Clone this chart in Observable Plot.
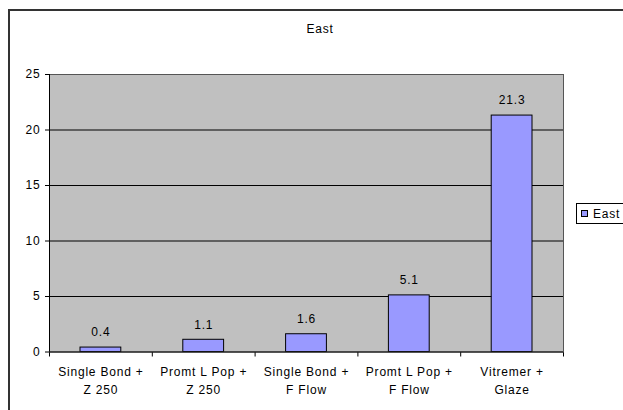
<!DOCTYPE html>
<html>
<head>
<meta charset="utf-8">
<script src="https://cdn.jsdelivr.net/npm/d3@7"></script>
<script src="https://cdn.jsdelivr.net/npm/@observablehq/plot@0.6"></script>
<style>
  html, body { margin: 0; padding: 0; background: #fff; }
  #wrap { position: relative; width: 623px; height: 410px; overflow: hidden; background: #fff;
          font-family: 'Liberation Sans', Arial, sans-serif; }
  #border { position: absolute; left: 8px; top: 9px; width: 700px; height: 500px;
            border: 2px solid #333; box-sizing: border-box; }
  #title { position: absolute; left: 0; width: 640px; top: 21px; text-align: center;
           font-size: 12px; letter-spacing: 0.8px; line-height: 16px; }
  #chart { position: absolute; left: 0; top: 0; }
  #chart svg text { letter-spacing: 0.8px; }
  #legend { position: absolute; left: 576px; top: 203px; width: 80px; height: 21px;
            border: 1px solid #000; box-sizing: border-box; background: #fff;
            font-size: 12px; letter-spacing: 0.8px; }
  #legend .sw { position: absolute; left: 4px; top: 6px; width: 7px; height: 7px; box-sizing: border-box;
                background: #9999ff; border: 1px solid #000; }
  #legend .lb { position: absolute; left: 16px; top: 2px; line-height: 16px; }
</style>
</head>
<body>
<div id="wrap">
  <div id="border"></div>
  <div id="title"></div>
  <div id="chart"></div>
  <div id="legend"><span class="sw"></span><span class="lb"></span></div>
</div>
<script>
const chartTitle = "East";
const seriesName = "East";
const categories = [
  "Single Bond +\nZ 250",
  "Promt L Pop +\nZ 250",
  "Single Bond +\nF Flow",
  "Promt L Pop +\nF Flow",
  "Vitremer +\nGlaze"
];
const values = [0.4, 1.1, 1.6, 5.1, 21.3];
const yTicks = [0, 5, 10, 15, 20, 25];

const data = categories.map((c, i) => ({cat: c, value: values[i], i0: i, i1: i + 1, mid: i + 0.5}));

document.getElementById("title").textContent = chartTitle;
document.querySelector("#legend .lb").textContent = seriesName;

const chart = Plot.plot({
  width: 623,
  height: 410,
  marginLeft: 49,
  marginRight: 60,
  marginTop: 74,
  marginBottom: 58.5,
  style: {fontFamily: "'Liberation Sans', Arial, sans-serif", fontSize: "12px", color: "#000", background: "transparent", overflow: "visible"},
  x: {type: "linear", domain: [0, categories.length], ticks: categories.length, tickSize: 5, tickFormat: () => "", label: null},
  y: {domain: [0, 25], ticks: yTicks, tickSize: 4, tickPadding: 5, label: null},
  marks: [
    Plot.frame({fill: "#c0c0c0"}),
    Plot.ruleY(yTicks.filter(v => v > 0 && v < 25), {stroke: "#000"}),
    Plot.rectY(data, {x1: "i0", x2: "i1", y: "value", fill: "#9999ff", stroke: "#000", insetLeft: 31, insetRight: 31}),
    Plot.frame({stroke: "#555"}),
    Plot.ruleX([0], {stroke: "#000"}),
    Plot.ruleY([0], {stroke: "#000"}),
    Plot.text(data, {x: "mid", y: "value", text: d => d.value.toFixed(1), dy: -15, fill: "#000"}),
    Plot.text(data, {x: "mid", text: "cat", frameAnchor: "bottom", lineAnchor: "top", dy: 12, lineHeight: 1.45, fill: "#000"})
  ]
});
document.getElementById("chart").appendChild(chart);
</script>
</body>
</html>
